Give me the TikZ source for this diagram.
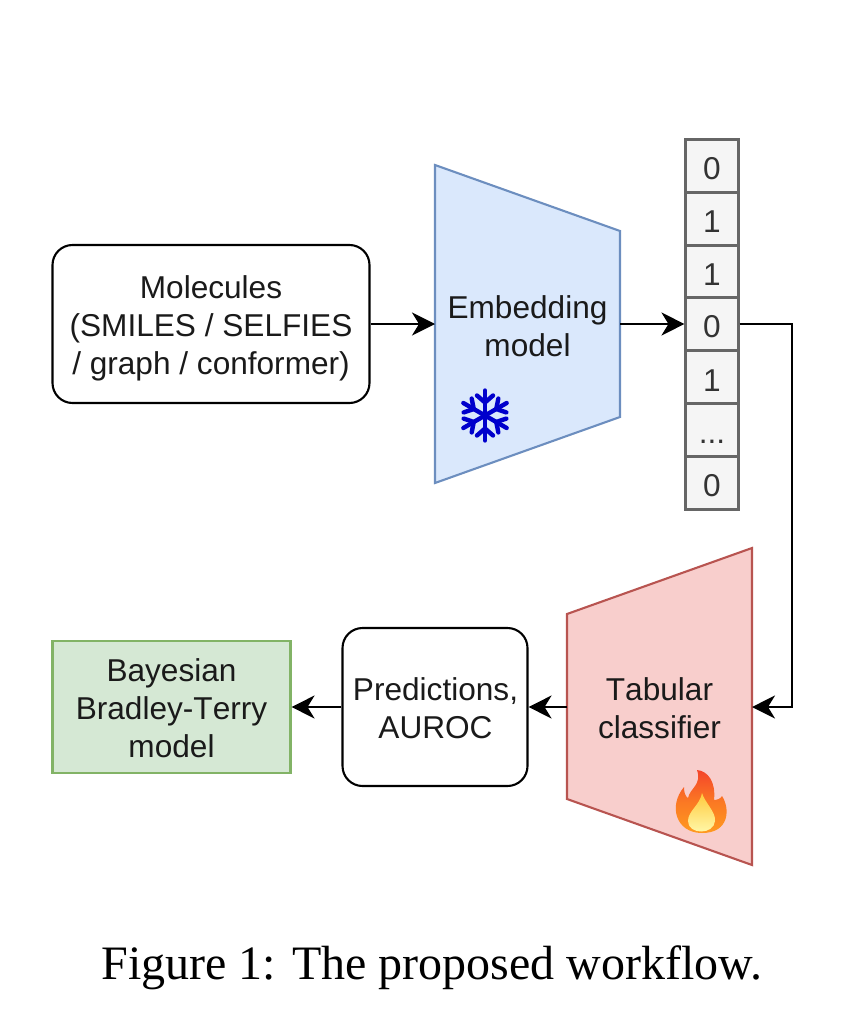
\documentclass[tikz,border=0pt]{standalone}
\usepackage{fontspec}
\setmainfont[Kerning=Off]{Liberation Sans}
\newfontfamily\capfont{Liberation Serif}
\usetikzlibrary{arrows.meta}
\definecolor{bluefill}{HTML}{DAE8FC}
\definecolor{blueline}{HTML}{6C8EBF}
\definecolor{redfill}{HTML}{F8CECC}
\definecolor{redline}{HTML}{B85450}
\definecolor{greenfill}{HTML}{D5E8D4}
\definecolor{greenline}{HTML}{82B366}
\definecolor{cellline}{HTML}{666666}
\definecolor{cellfill}{HTML}{F5F5F5}
\definecolor{celltext}{HTML}{333333}
\definecolor{icy}{HTML}{0000CC}
\definecolor{txt}{HTML}{1A1A1A}
\definecolor{flameTop}{HTML}{F4452A}
\definecolor{flameBot}{HTML}{FF9A1F}
\definecolor{coreTop}{HTML}{FFC93C}
\definecolor{coreBot}{HTML}{FFFBB0}
\tikzset{
  every node/.style={font=\fontsize{31.6}{38}\selectfont, text=txt, align=center, inner sep=0pt},
  roundbox/.style={draw=black, line width=2.1pt, fill=white, rounded corners=20pt, minimum width=#1},
  cellbox/.style={draw=cellline, fill=cellfill, text=celltext, line width=2.1pt, minimum width=53pt, minimum height=53pt, text height=27pt, text depth=0pt},
  flow/.style={draw=black, line width=2.1pt, -{Stealth[length=23pt,width=23pt,inset=7pt]}},
  trap/.style={line width=2.1pt, line join=miter},
  arm/.style={draw=icy, line width=4.4pt, line cap=round, line join=round},
}
\begin{document}
\begin{tikzpicture}[x=1pt,y=-1pt]
\useasboundingbox (0,0) rectangle (858,1032);
% Molecules
\node[roundbox=317pt, minimum height=158pt] (mol) at (211,324) {};
\node at (211,328) {Molecules\\(SMILES / SELFIES\\/ graph / conformer)};
% Embedding
\draw[trap, draw=blueline, fill=bluefill] (435,165) -- (620,231) -- (620,417) -- (435,483) -- cycle;
\coordinate (embL) at (435,324);
\coordinate (embR) at (620,324);
\node (emb) at (527.5,326) {Embedding\\model};
% snowflake
\begin{scope}[shift={(485,415.5)}]
  \foreach \a in {0,60,...,300}{
    \begin{scope}[rotate=\a]
      \draw[arm] (0,0) -- (0,-25);
      \draw[arm] (-8,-20) -- (0,-13) -- (8,-20);
    \end{scope}
  }
\end{scope}
% vector
\node[cellbox] (c0) at (712,166) {0};
\node[cellbox] (c1) at (712,219) {1};
\node[cellbox] (c2) at (712,272) {1};
\node[cellbox] (c3) at (712,324) {0};
\node[cellbox] (c4) at (712,377.5) {1};
\node[cellbox] (c5) at (712,430) {...};
\node[cellbox] (c6) at (712,483) {0};
% Tabular
\draw[trap, draw=redline, fill=redfill] (567,614) -- (752,548) -- (752,865) -- (567,799) -- cycle;
\coordinate (tabR) at (752,707);
\coordinate (tabL) at (567,707);
\node (tab) at (659.5,708.5) {Tabular\\classifier};
% flame
\shade[top color=flameTop, bottom color=flameBot, middle color=flameBot!60!flameTop]
  (697,770) .. controls (708,771) and (716,782) .. (714,800)
  .. controls (718,800) and (721,798) .. (722,796)
  .. controls (730,808) and (730,833) .. (702,833)
  .. controls (676,833) and (668,806) .. (684,787)
  .. controls (684,792) and (685,796) .. (688,798)
  .. controls (690,788) and (702,785) .. (697,770) -- cycle;
\shade[top color=coreTop, bottom color=coreBot]
  (702,793) .. controls (705,803) and (716,812) .. (715,821)
  .. controls (714,835) and (688,835) .. (688,821)
  .. controls (688,811) and (700,805) .. (702,793) -- cycle;
% Predictions
\node[roundbox=185pt, minimum height=158pt] (pred) at (435,707) {};
\node at (435.5,708.5) {Predictions,\\AUROC};
% Bayesian
\node[draw=greenline, fill=greenfill, line width=2.1pt, minimum width=238pt, minimum height=132pt] (bay) at (171.5,707) {};
\node at (171.5,708.5) {Bayesian\\Bradley-Terry\\model};
% connectors
\draw[flow] (mol.east) -- (embL);
\draw[flow] (embR) -- (c3.west);
\draw[flow] (c3.east) -- (792,324) -- (792,707) -- (tabR);
\draw[flow] (tabL) -- (pred.east);
\draw[flow] (pred.west) -- (bay.east);
% caption
\node[font=\capfont\fontsize{48}{50}\selectfont, text=black] (cap) at (432,968) {Figure 1: The proposed workflow.};
\end{tikzpicture}
\end{document}
